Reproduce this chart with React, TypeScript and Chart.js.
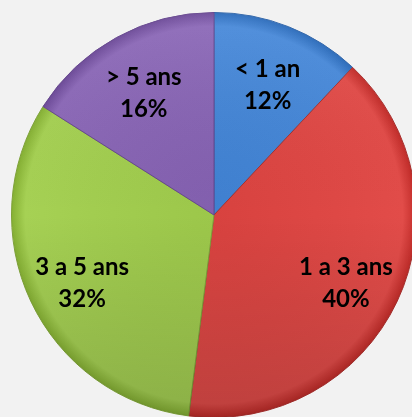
import React, { useEffect, useRef } from "react";
import { Chart, registerables } from "chart.js";

Chart.register(...registerables);

const categories = ["< 1 an", "1 a 3 ans", "3 a 5 ans", "> 5 ans"];
const values = [12, 40, 32, 16];
const baseColors = ["#4586d6", "#de4845", "#a2cd50", "#8865b4"];
const darkColors = ["#2f64a8", "#a8302e", "#7ea13a", "#66478e"];

function shade(hex: string, amt: number) {
  const n = parseInt(hex.slice(1), 16);
  let r = (n >> 16) & 255, g = (n >> 8) & 255, b = n & 255;
  r = Math.max(0, Math.min(255, Math.round(r + amt)));
  g = Math.max(0, Math.min(255, Math.round(g + amt)));
  b = Math.max(0, Math.min(255, Math.round(b + amt)));
  return `rgb(${r},${g},${b})`;
}

const labelPlugin = {
  id: "sliceLabels",
  afterDatasetsDraw(chart: any) {
    const ctx = chart.ctx;
    const meta = chart.getDatasetMeta(0);
    const data = chart.data.datasets[0].data as number[];
    const total = data.reduce((a, b) => a + b, 0);
    if (meta.data.length) {
      const a0: any = meta.data[0];
      const { x, y, outerRadius } = a0.getProps(["x", "y", "outerRadius"], true);
      ctx.save();
      ctx.beginPath();
      ctx.arc(x, y, outerRadius, 0, Math.PI * 2);
      ctx.clip();
      const lg = ctx.createLinearGradient(0, y - outerRadius, 0, y + outerRadius);
      lg.addColorStop(0, "rgba(255,255,255,0.06)");
      lg.addColorStop(0.5, "rgba(0,0,0,0)");
      lg.addColorStop(1, "rgba(0,0,0,0.16)");
      ctx.fillStyle = lg;
      ctx.fillRect(x - outerRadius, y - outerRadius, outerRadius * 2, outerRadius * 2);
      ctx.restore();
    }
    ctx.save();
    ctx.fillStyle = "#000";
    ctx.font = "bold 24px Lato";
    ctx.textAlign = "center";
    ctx.textBaseline = "middle";
    meta.data.forEach((arc: any, i: number) => {
      const { x, y, startAngle, endAngle, outerRadius } = arc.getProps(
        ["x", "y", "startAngle", "endAngle", "outerRadius"],
        true
      );
      const mid = (startAngle + endAngle) / 2;
      const d = outerRadius * 0.72;
      const cx = x + Math.cos(mid) * d;
      const cy = y + Math.sin(mid) * d + 6;
      const pct = Math.round((data[i] / total) * 100) + "%";
      ctx.fillText(String(chart.data.labels[i]), cx, cy - 16);
      ctx.fillText(pct, cx, cy + 16);
    });
    ctx.restore();
  },
};

export default function App() {
  const ref = useRef<HTMLCanvasElement | null>(null);
  useEffect(() => {
    if (!ref.current) return;
    const chart = new Chart(ref.current, {
      type: "pie",
      data: {
        labels: categories,
        datasets: [
          {
            data: values,
            backgroundColor: (c: any) => {
              const ch = c.chart;
              const area = ch.chartArea;
              if (!area) return baseColors[c.dataIndex];
              const cx = (area.left + area.right) / 2;
              const cy = (area.top + area.bottom) / 2;
              const r = Math.min(area.right - area.left, area.bottom - area.top) / 2;
              const g = ch.ctx.createRadialGradient(cx, cy, 0, cx, cy, r);
              const base = baseColors[c.dataIndex];
              g.addColorStop(0, shade(base, -6));
              g.addColorStop(0.6, base);
              g.addColorStop(0.93, shade(base, 4));
              g.addColorStop(1, shade(base, -30));
              return g;
            },
            borderColor: darkColors,
            borderWidth: 1,
          },
        ],
      },
      options: {
        responsive: false,
        maintainAspectRatio: false,
        animation: false,
        rotation: 0,
        layout: { padding: { left: 11, top: 12, right: 13, bottom: 12 } },
        plugins: {
          legend: { display: false },
          tooltip: { enabled: false },
        },
      },
      plugins: [labelPlugin],
    });
    return () => chart.destroy();
  }, []);
  return (
    <div
      style={{
        position: "fixed",
        left: 0,
        top: 0,
        width: 412,
        height: 417,
        overflow: "hidden",
        background: "#f2f2f2",
      }}
    >
      <canvas ref={ref} width={430} height={430} style={{ display: "block" }} />
    </div>
  );
}
